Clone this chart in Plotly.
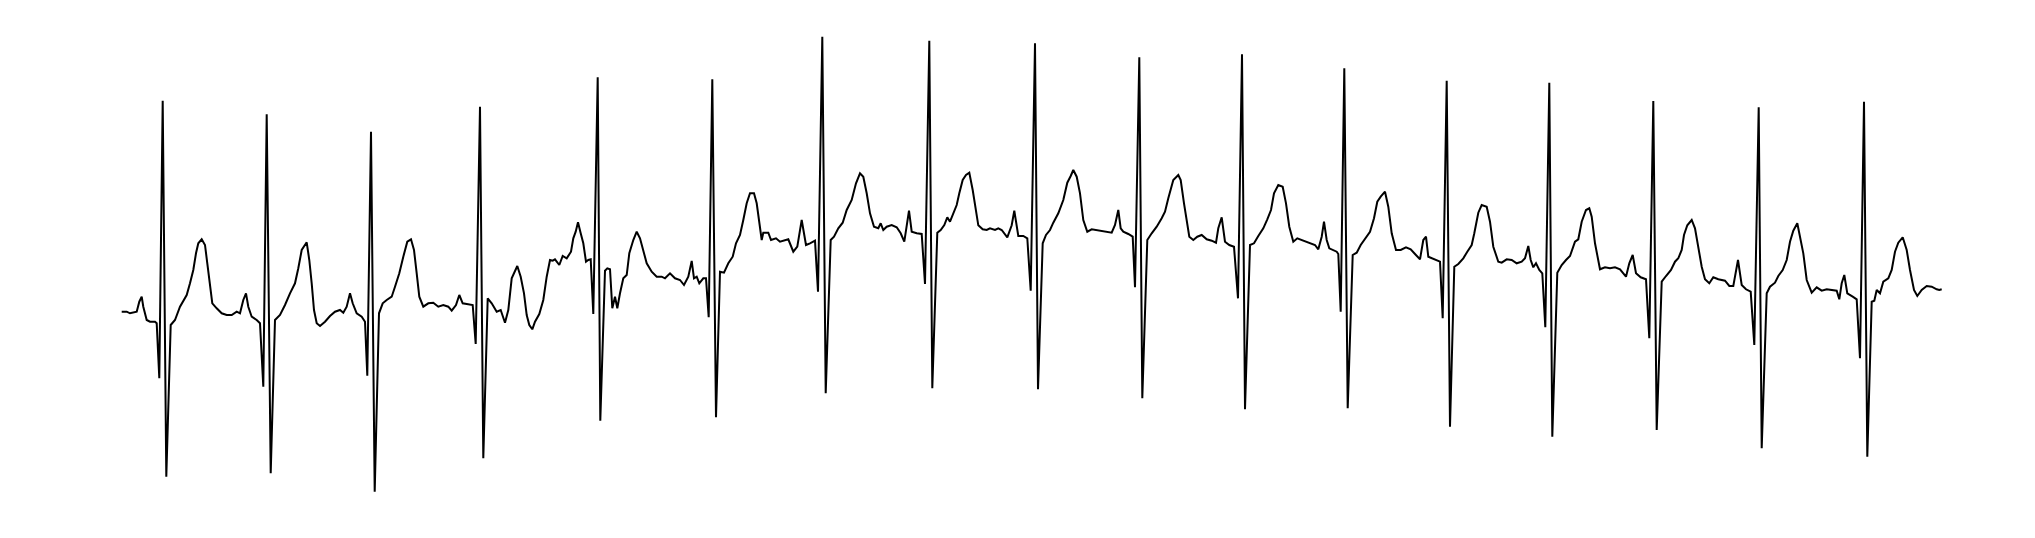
import plotly.graph_objects as go

# ECG trace: time in samples, amplitude in mV
t_samples = [
0.7,5.7,9.0,12.3,15.7,18.3,20.7,22.3,25.7,29.0,34.0,35.7,38.3,41.7,45.3,49.7,54.0,59.0,65.7,69.0,
72.3,75.0,77.3,80.7,84.0,86.3,89.0,91.3,95.7,100.7,105.7,110.7,115.7,119.0,122.3,125.0,127.3,130.7,135.7,139.0,
142.3,145.7,149.7,154.0,159.0,164.0,169.0,174.0,177.3,180.7,185.7,188.3,190.7,193.0,195.7,199.0,
204.0,209.0,214.0,219.0,222.3,225.7,229.0,231.7,235.7,240.7,244.0,246.3,250.0,253.7,258.0,261.7,265.7,270.7,
274.0,278.3,282.3,286.3,290.0,293.0,295.7,298.3,302.3,307.3,312.3,317.3,322.3,327.3,330.7,335.0,338.3,341.7,
345.7,351.7,354.7,359.0,362.3,366.7,370.7,375.7,379.7,384.0,387.3,390.7,
396.3,399.7,403.0,405.7,408.3,411.3,414.0,418.3,422.3,425.7,429.0,431.7,434.0,438.3,441.7,445.7,450.0,452.3,
454.7,457.0,459.7,462.3,465.0,467.3,469.7,472.3,476.7,479.3,484.0,486.3,489.0,491.3,494.0,496.3,499.0,502.3,
505.7,508.3,512.3,515.7,519.0,522.3,525.7,530.7,535.7,540.7,544.0,549.0,554.0,559.0,563.0,567.3,570.7,573.0,
575.7,578.3,582.3,585.0,587.7,591.3,595.0,599.0,603.0,607.3,611.7,615.0,619.0,622.3,625.7,629.0,633.0,635.7,
638.3,640.7,642.3,647.3,650.0,655.0,659.0,664.0,667.3,672.3,676.3,680.7,685.0,689.0,694.0,697.0,701.3,704.7,
709.7,713.0,717.3,721.7,725.7,730.7,735.0,739.0,742.3,745.7,749.0,753.0,757.3,759.7,762.3,765.7,770.7,775.7,
779.7,783.3,785.7,788.0,790.7,795.7,800.7,804.0,808.3,811.3,816.3,819.7,823.3,826.3,829.0,832.3,835.7,838.3,
841.7,845.0,848.3,851.7,854.0,857.3,861.7,865.7,869.0,874.0,877.3,880.7,886.3,890.7,893.3,897.3,902.3,906.3,
909.7,914.0,917.0,921.7,925.0,929.0,932.3,937.3,942.3,946.3,949.7,952.3,955.7,959.0,962.3,966.3,970.7,975.7,
980.7,985.7,990.7,994.0,997.3,999.7,1002.3,1007.3,1011.7,1014.0,1018.3,1021.3,1026.3,1030.7,1035.7,1040.7,
1044.0,1047.3,1052.3,1057.3,1059.7,1063.0,1065.7,1068.3,1072.3,1076.3,1080.7,1085.7,1090.7,1095.0,1097.3,
1100.7,1104.0,1108.3,1113.0,1117.0,1121.0,1124.0,1129.0,1133.0,1137.3,1142.3,1146.3,1150.0,1153.0,1157.3,
1161.7,1165.0,1168.3,1172.3,1176.3,1182.3,1189.0,1194.0,1197.3,1200.7,1203.0,1205.7,1208.3,1211.7,1215.7,
1217.3,1219.7,1223.3,1226.7,1231.7,1235.7,1239.7,1244.0,1249.0,1253.0,1256.3,1259.7,1264.0,1267.3,1270.7,
1275.0,1279.7,1285.0,1289.7,1294.0,1299.0,1302.3,1305.0,1307.3,1310.7,1315.0,1319.0,1321.7,1325.7,1329.0,
1333.3,1337.3,1342.3,1346.3,1350.7,1353.3,1357.3,1360.7,1365.7,1369.0,1372.3,1377.3,1380.7,1385.7,1390.7,
1395.7,1400.7,1404.0,1407.3,1409.7,1412.3,1415.0,1418.3,1421.3,1424.3,1428.3,1431.3,1436.3,1440.7,1445.0,
1449.0,1454.0,1457.3,1460.7,1465.0,1468.3,1470.7,1474.0,1479.0,1484.0,1489.0,1494.0,1499.0,1505.0,1508.3,
1511.7,1515.0,1519.7,1525.0,1528.3,1532.3,1535.7,1540.7,1545.0,1550.0,1554.0,1557.3,1560.7,1563.0,1566.3,
1570.7,1574.0,1577.3,1580.7,1584.0,1588.3,1592.3,1597.3,1604.0,1608.3,1612.3,1617.0,1620.7,1625.0,1629.7,
1633.3,1637.7,1640.7,1645.7,1649.0,1654.0,1657.3,1661.7,1665.7,1669.0,1672.3,1676.3,1679.0,1682.3,1685.7,
1690.7,1695.7,1700.7,1705.7,1712.3,1715.7,1718.3,1720.7,1723.3,1726.3,1731.7,1735.7,1739.0,1743.0,1746.3,
1750.7,1753.3,1755.7,1759.0,1762.3,1767.3,1770.7,1774.0,1777.3,1781.7,1785.7,1789.0,1793.0,1796.3,1800.7,
1805.7,1810.7,1815.7,1818.3,1820.7,
]

amp_mv = [
0.003,0.003,-0.013,-0.007,0.003,0.103,0.153,0.053,-0.08,-0.097,-0.097,-0.113,-0.663,2.113,-1.647,-0.13,-0.08,0.053,0.17,0.287,
0.42,0.587,0.687,0.727,0.67,0.487,0.253,0.087,0.037,-0.013,-0.03,-0.03,0.003,-0.013,0.12,0.187,0.053,-0.047,-0.08,-0.113,
-0.747,1.977,-1.613,-0.08,-0.03,0.07,0.187,0.287,0.437,0.62,0.697,0.52,0.287,0.02,-0.113,-0.14,
-0.097,-0.04,0.003,0.02,-0.007,0.053,0.187,0.087,-0.013,-0.047,-0.097,-0.637,1.803,-1.797,-0.013,0.087,0.12,0.153,
0.253,0.387,0.553,0.703,0.727,0.62,0.387,0.153,0.053,0.087,0.093,0.053,0.07,0.053,0.013,0.07,0.17,0.087,
0.08,0.07,-0.32,2.053,-1.463,0.137,0.087,0.003,0.02,-0.107,0.02,0.337,
0.46,0.353,0.187,-0.03,-0.13,-0.173,-0.097,-0.02,0.12,0.353,0.52,0.513,0.527,0.47,0.56,0.537,0.603,0.737,
0.803,0.897,0.787,0.687,0.503,0.52,0.527,-0.02,2.347,-1.087,0.413,0.437,0.427,0.037,0.153,0.037,0.187,0.337,
0.37,0.587,0.72,0.803,0.737,0.62,0.487,0.403,0.353,0.353,0.337,0.387,0.337,0.32,0.27,0.353,0.51,0.337,
0.353,0.287,0.337,0.337,-0.053,2.327,-1.053,0.403,0.393,0.487,0.553,0.687,0.77,0.92,1.087,1.187,1.187,1.087,
0.867,0.72,0.793,0.793,0.72,0.737,0.703,0.72,0.727,0.603,0.653,0.92,0.67,0.687,0.713,0.203,2.753,-0.813,
0.72,0.753,0.837,0.893,1.02,1.12,1.287,1.387,1.353,1.187,0.987,0.853,0.837,0.887,0.82,0.853,0.87,0.847,
0.787,0.703,0.853,1.013,0.803,0.787,0.78,0.28,2.713,-0.763,0.793,0.82,0.87,0.947,0.903,0.987,1.07,1.187,
1.32,1.37,1.393,1.22,1.087,0.867,0.827,0.82,0.837,0.82,0.837,0.82,0.747,0.867,1.013,0.76,0.76,0.737,
0.213,2.687,-0.773,0.687,0.77,0.82,0.893,0.987,1.12,1.293,1.36,1.42,1.353,1.187,0.92,0.803,0.827,0.82,
0.813,0.803,0.793,0.87,1.02,0.837,0.803,0.78,0.753,0.247,2.547,-0.863,0.72,0.787,0.853,0.937,
1.003,1.137,1.32,1.37,1.32,1.087,0.92,0.753,0.72,0.753,0.77,0.727,0.713,0.693,0.837,
0.947,0.703,0.67,0.653,0.137,2.577,-0.973,0.67,0.687,0.76,0.837,0.927,1.02,1.187,1.27,
1.253,1.087,0.853,0.703,0.737,0.713,0.687,0.67,0.627,0.753,0.903,0.72,0.637,0.62,0.603,
0.58,0.003,2.437,-0.963,0.57,0.593,0.67,0.727,0.803,0.937,1.103,1.153,1.203,1.053,0.787,
0.62,0.62,0.647,0.627,0.58,0.527,0.72,0.753,0.553,0.537,0.52,0.503,-0.063,2.313,-1.147,
0.453,0.48,0.537,0.603,0.67,0.787,0.993,1.07,1.053,0.903,0.653,0.503,0.493,0.527,0.52,
0.487,0.503,0.537,0.66,0.52,0.447,0.487,0.42,0.387,-0.153,2.293,-1.247,0.393,0.47,0.52,
0.56,0.703,0.727,0.903,1.02,1.037,0.953,0.687,0.427,0.447,0.437,0.447,0.427,0.353,0.487,
0.57,0.387,0.347,0.327,-0.263,2.11,-1.18,0.303,0.36,0.42,0.503,0.537,0.62,0.77,0.867,
0.92,0.837,0.653,0.453,0.327,0.287,0.347,0.327,0.313,0.26,0.26,0.52,0.27,0.227,0.203,
-0.33,2.047,-1.363,0.187,0.253,0.293,0.36,0.42,0.52,0.703,0.813,0.887,0.753,0.587,0.32,
0.193,0.247,0.213,0.227,0.22,0.213,0.127,0.287,0.37,0.187,0.153,0.127,-0.463,2.103,-1.447,
0.103,0.113,0.22,0.187,0.303,0.337,0.42,0.603,0.693,0.747,0.62,0.42,0.22,0.16,0.22,
0.26,0.253,0.227,0.22,0.227,
]

fig = go.Figure(
    go.Scatter(
        x=t_samples,
        y=amp_mv,
        mode="lines",
        line=dict(color="black", width=2),
        hoverinfo="skip",
        showlegend=False,
    )
)

# the page body has an 8px margin, so the figure is sized to fit inside the window
fig.update_layout(
    width=2019,
    height=522,
    margin=dict(l=0, r=0, t=0, b=0, pad=0),
    paper_bgcolor="white",
    plot_bgcolor="white",
    xaxis=dict(visible=False, range=[-113, 1906]),
    yaxis=dict(visible=False, range=[-2.18, 3.04]),
)

fig.write_html("out.html")
